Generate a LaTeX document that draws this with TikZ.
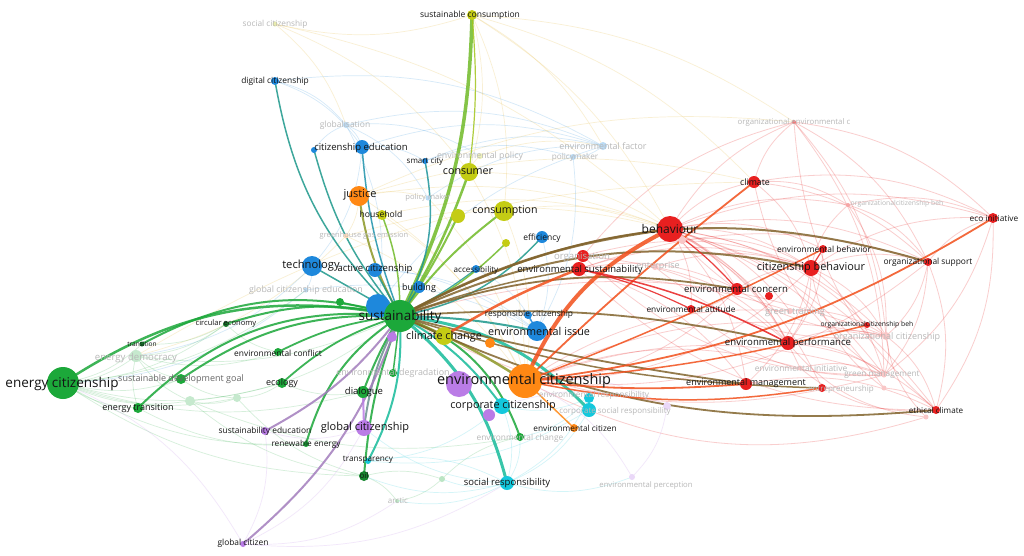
\documentclass[tikz,border=0pt]{standalone}
\usepackage{fontspec}
\setmainfont{Open Sans}
\definecolor{cgr}{RGB}{28,168,58}
\definecolor{crd}{RGB}{232,32,32}
\definecolor{cbl}{RGB}{30,136,220}
\definecolor{cyl}{RGB}{196,204,20}
\definecolor{cor}{RGB}{255,136,20}
\definecolor{cpu}{RGB}{186,124,230}
\definecolor{ccy}{RGB}{20,200,220}
\colorlet{cgy}{cgr!50!cyl}
\colorlet{cgb}{cgr!50!cbl}
\colorlet{col}{cgr!50!crd}
\colorlet{cgc}{cgr!40!ccy}
\colorlet{cro}{crd!55!cor}
\colorlet{cgo}{cgr!50!cor}
\pgfdeclarelayer{edges}
\pgfsetlayers{edges,main}
\tikzset{
  vnode/.style={circle,inner sep=0pt,draw=none},
  lab/.style={inner sep=0pt,text=black!92},
  mlab/.style={inner sep=0pt,text=black!60},
  flab/.style={inner sep=0pt,text=black!28},
  sedge/.style={line cap=round,opacity=0.85},
  fedge/.style={line width=0.7pt,opacity=0.18},
  rfedge/.style={line width=0.8pt,opacity=0.22},
}
\newcommand\vnd[5]{\node[vnode,minimum size=#4pt,fill=#5] (#1) at (#2,-#3) {};}
\newcommand\vlab[5]{\node[lab,font=\fontsize{#4}{#4}\selectfont] (#1) at (#2,-#3) {#5};}
\newcommand\vmlab[5]{\node[mlab,font=\fontsize{#4}{#4}\selectfont] (#1) at (#2,-#3) {#5};}
\newcommand\vflab[5]{\node[flab,font=\fontsize{#4}{#4}\selectfont] (#1) at (#2,-#3) {#5};}
\begin{document}
\begin{tikzpicture}[x=1pt,y=1pt]
\useasboundingbox (0,0) rectangle (1024,-555);
% ---------------- nodes ----------------
\vnd{socc}{275}{24}{5}{cyl!35}
\vnd{glob}{346}{125}{6}{cbl!30}
\vnd{envpol}{480}{156}{6}{cyl!30}
\vnd{ef}{603}{146}{8}{cbl!30}
\vnd{pm1}{573}{157}{6}{cbl!30}
\vnd{pm2}{428}{198}{5}{cbl!30}
\vnd{ghg}{346}{236}{5}{cor!30}
\vnd{gce}{306}{290}{5}{cbl!30}
\vnd{ed}{136}{356}{12}{cgr!25}
\vnd{gf1}{190}{401}{10}{cgr!25}
\vnd{gf2}{237}{398}{8}{cgr!25}
\vnd{gf3}{442}{479}{6}{cgr!30}
\vnd{arc}{397}{501}{4}{cgr!30}
\vnd{ep}{632}{477}{6}{cpu!30}
\vnd{pu4}{667}{406}{8}{cpu!30}
\vnd{ent}{655}{267}{6}{crd!25}
\vnd{bhf}{682}{240}{8}{crd!25}
\vnd{oec}{794}{122}{4}{crd!60}
\vnd{ocb1}{848}{205}{4}{crd!40}
\vnd{gt}{790}{311}{6}{crd!25}
\vnd{oc}{886}{336}{8}{crd!25}
\vnd{einit}{800}{368}{5}{crd!25}
\vnd{gm}{884}{375}{5}{crd!25}
\vnd{rdf}{884}{388}{5}{crd!25}
\vnd{rdf2}{926}{417}{5}{crd!25}
\vnd{sc}{472}{15}{10}{cyl}
\vnd{dc}{275}{81}{8}{cbl}
\vnd{ce2}{314}{150}{6}{cbl}
\vnd{ce}{362}{147}{14}{cbl}
\vnd{smc}{425}{161}{6}{cbl}
\vnd{cons}{469}{172}{18}{cyl}
\vnd{jus}{359}{196}{20}{cor}
\vnd{hh}{382}{215}{10}{cyl}
\vnd{cnsm}{504}{211}{20}{cyl}
\vnd{yltwo}{458}{216}{14}{cyl}
\vnd{eff}{542}{237}{12}{cbl}
\vnd{ylthree}{506}{243}{8}{cyl}
\vnd{tech}{312}{266}{20}{cbl}
\vnd{ac}{375}{270}{14}{cbl}
\vnd{acc}{476}{269}{8}{cbl}
\vnd{bld}{419}{287}{12}{cbl}
\vnd{gtwo}{340}{302}{8}{cgr}
\vnd{Sb}{378}{306}{24}{cbl}
\vnd{S}{400}{316}{32}{cgr}
\vnd{circ}{226}{324}{6}{cgr!70!black}
\vnd{trn}{142}{344}{5}{cgr!70!black}
\vnd{EC}{63}{383}{32}{cgr}
\vnd{sdg}{181}{379}{10}{cgr}
\vnd{envcon}{278}{352}{8}{cgr}
\vnd{eco}{282}{383}{10}{cgr}
\vnd{et}{138}{408}{10}{cgr}
\vnd{sed}{265}{431}{8}{cpu}
\vnd{gc}{364}{428}{16}{cpu}
\vnd{re}{306}{444}{6}{cgr}
\vnd{dia}{363}{392}{12}{cgr}
\vnd{putwo}{392}{337}{10}{cpu}
\vnd{ndeg}{393}{373}{8}{cgr}
\vnd{cc}{444}{336}{18}{cyl}
\vnd{ortwo}{490}{343}{10}{cor}
\vnd{rc}{528}{315}{8}{cbl}
\vnd{ei}{537}{331}{20}{cbl}
\vnd{encp}{459}{384}{26}{cpu}
\vnd{ENC}{525}{381}{34}{cor}
\vnd{corp}{502}{406}{16}{ccy}
\vnd{puthree}{489}{415}{12}{cpu}
\vnd{cytwo}{589}{398}{10}{ccy}
\vnd{cythree}{589}{410}{14}{ccy}
\vnd{ecit}{574}{428}{8}{cor}
\vnd{ech}{520}{437}{8}{cgr}
\vnd{tra}{368}{461}{6}{ccy}
\vnd{oil}{364}{476}{10}{cgr!80!black}
\vnd{sr}{507}{483}{14}{ccy}
\vnd{gcz}{243}{544}{6}{cpu}
\vnd{org}{583}{256}{12}{crd}
\vnd{es}{579}{269}{14}{crd}
\vnd{BEH}{670}{229}{26}{crd}
\vnd{cli}{754}{182}{12}{crd}
\vnd{ecoi}{993}{218}{10}{crd}
\vnd{eb}{823}{249}{8}{crd}
\vnd{cb}{811}{268}{16}{crd}
\vnd{os}{928}{262}{8}{crd}
\vnd{econ}{737}{289}{12}{crd}
\vnd{rdtwo}{769}{296}{8}{crd}
\vnd{ea}{691}{309}{8}{crd}
\vnd{ocbtwo}{867}{325}{6}{crd}
\vnd{epf}{788}{343}{14}{crd}
\vnd{em}{746}{384}{12}{crd}
\vnd{entr}{822}{388}{8}{crd}
\vnd{etc}{936}{410}{8}{crd}
% ---------------- edges ----------------
\begin{pgfonlayer}{edges}
\fill[white] (0,0) rectangle (1024,-555);
% faint background edges
\foreach \a/\b in {BEH/cli,BEH/cb,BEH/eb,BEH/os,BEH/ecoi,BEH/econ,BEH/ea,BEH/epf,BEH/em,BEH/entr,BEH/etc,BEH/gt,BEH/ocbtwo,BEH/oc,BEH/gm,BEH/einit,BEH/oec,BEH/ocb1,cli/oec,cli/ecoi,cli/cb,cli/os,cli/ocb1,oec/os,oec/ecoi,oec/gm,oec/oc,cb/os,cb/ecoi,cb/epf,cb/em,cb/oc,cb/gm,cb/ocb1,os/ecoi,os/gm,os/etc,os/oc,epf/gm,epf/oc,epf/etc,em/etc,econ/ea,econ/cb,eb/epf,ocb1/ecoi,ocb1/oc,ocb1/os,ecoi/etc,ecoi/gm,oc/etc,oc/gm,gt/oc,einit/gm,es/cb,es/econ,org/cb,ent/cb,ent/epf,es/em,org/epf,ENC/gm,ENC/oc,ENC/gt,ENC/einit,S/oc,S/gt,bhf/cb,bhf/epf,rdf/etc,rdf2/oc,org/oec,es/os,BEH/rdf}
  \draw[rfedge,draw=crd] (\a.center) to[bend left=18] (\b.center);
\foreach \a/\b in {BEH/oc,cli/gm,oec/etc,cb/rdf,epf/rdf2,ENC/cb,ENC/econ,ENC/os,es/etc,org/gm,ent/oc,ea/gm,einit/etc,ENC/rdf2,S/gm}
  \draw[rfedge,draw=crd] (\a.center) to[bend right=22] (\b.center);
\foreach \a/\b in {sc/socc,sc/cnsm,sc/cons,sc/cli,sc/BEH,sc/ef,sc/oec,socc/cons,socc/glob,jus/BEH,jus/cli,jus/ghg,jus/pm2,hh/ENC,hh/BEH,cons/BEH,cnsm/BEH,cnsm/ENC,cons/envpol,envpol/ef,ghg/ENC,ghg/ed,jus/ENC,cons/ENC,ghg/BEH,pm2/ENC,socc/BEH,ed/cli,jus/oec}
  \draw[fedge,draw=cor!50!cyl] (\a.center) to[bend left=15] (\b.center);
\foreach \a/\b in {dc/glob,glob/ce,glob/pm2,glob/ef,ce/smc,smc/ef,ef/pm1,pm1/ei,ce/tech,tech/gce,pm2/ef,glob/Sb,dc/ce,ce2/glob,smc/pm1,tech/ei,ac/ei,gce/ei,glob/envpol,tech/ed,gce/EC,Sb/ef,acc/ei,eff/ei,dc/ef,ce/ef}
  \draw[fedge,draw=cbl] (\a.center) to[bend left=18] (\b.center);
\foreach \a/\b in {EC/ed,EC/sdg,EC/et,EC/gf1,EC/trn,ed/sdg,ed/et,sdg/et,gf1/gf2,gf2/eco,ed/gf1,trn/circ,circ/envcon,eco/dia,et/re,sdg/gf2,EC/gf2,EC/circ,EC/eco,gf1/S,ed/S,EC/gce,EC/re,ed/envcon,gf1/oil,gf2/oil,arc/gf3,gf3/oil,ech/gf3,arc/oil,EC/dia,ed/circ,EC/oil,gf1/ech}
  \draw[fedge,draw=cgr] (\a.center) to[bend right=16] (\b.center);
\foreach \a/\b in {sr/corp,sr/tra,sr/cythree,sr/ech,arc/sr,gf3/sr,tra/corp,sr/ep,sr/cytwo,corp/cytwo,tra/cythree,ech/cytwo,gc/sr,oil/sr}
  \draw[fedge,draw=ccy] (\a.center) to[bend right=18] (\b.center);
\foreach \a/\b in {gcz/sed,gcz/gc,ep/ENC,pu4/ENC,gcz/EC,sed/gc,pu4/corp,ep/pu4,gcz/arc,gcz/sr}
  \draw[fedge,draw=cpu] (\a.center) to[bend right=18] (\b.center);
% strong edges from sustainability
\draw[sedge,draw=cgy,line width=3.5pt] (S.center) to[bend right=12] (sc.center);
\draw[sedge,draw=cyl!80!cgr,line width=1.2pt] (cons.center) to[bend right=6] (sc.center);
\draw[sedge,draw=cgb,line width=1.5pt] (S.center) to[bend left=18] (dc.center);
\draw[sedge,draw=cgb,line width=1.5pt] (S.center) to[bend left=12] (ce2.center);
\draw[sedge,draw=cbl!70!cgr,line width=1.5pt] (S.center) to[bend left=8] (ce.center);
\draw[sedge,draw=cbl!60!cgr,line width=1.5pt] (S.center) to[bend right=20] (smc.center);
\draw[sedge,draw=cgy,line width=2.5pt] (S.center) to[bend right=6] (cons.center);
\draw[sedge,draw=cgo,line width=2pt] (S.center) to[bend left=10] (jus.center);
\draw[sedge,draw=cgy,line width=1.5pt] (S.center) to[bend right=10] (hh.center);
\draw[sedge,draw=cgy,line width=2pt] (S.center) to[bend left=8] (cnsm.center);
\draw[sedge,draw=cgy,line width=2pt] (S.center) to[bend right=4] (yltwo.center);
\draw[sedge,draw=cgb,line width=1.5pt] (S.center) to[bend right=18] (eff.center);
\draw[sedge,draw=cgy,line width=1.5pt] (S.center) to[bend right=10] (ylthree.center);
\draw[sedge,draw=cgb,line width=1.2pt] (S.center) to[bend right=5] (acc.center);
\draw[sedge,draw=cgb,line width=1.5pt] (S.center) -- (tech.center);
\draw[sedge,draw=cgb,line width=1.5pt] (S.center) -- (ac.center);
\draw[sedge,draw=cgb,line width=1.5pt] (S.center) -- (bld.center);
\draw[sedge,draw=cgr,line width=1.5pt] (S.center) -- (gtwo.center);
\draw[sedge,draw=cgr,line width=2.5pt] (S.center) to[bend right=22] (EC.center);
\draw[sedge,draw=cgr,line width=2pt] (S.center) to[bend right=22] (trn.center);
\draw[sedge,draw=cgr,line width=2pt] (S.center) to[bend right=15] (circ.center);
\draw[sedge,draw=cgr,line width=2pt] (S.center) to[bend right=18] (sdg.center);
\draw[sedge,draw=cgr,line width=2pt] (S.center) to[bend right=25] (et.center);
\draw[sedge,draw=cgr,line width=1.8pt] (S.center) to[bend right=10] (envcon.center);
\draw[sedge,draw=cgr,line width=1.8pt] (S.center) to[bend right=12] (eco.center);
\draw[sedge,draw=cgr,line width=2pt] (S.center) to[bend right=20] (re.center);
\draw[sedge,draw=cgr,line width=2pt] (S.center) to[bend right=5] (dia.center);
\draw[sedge,draw=cgr!50!cpu,line width=2pt] (S.center) to[bend right=10] (gc.center);
\draw[sedge,draw=cgr,line width=2pt] (S.center) to[bend right=8] (oil.center);
\draw[sedge,draw=cgr,line width=1.5pt] (S.center) -- (ndeg.center);
\draw[sedge,draw=cpu,line width=1.5pt] (S.center) -- (putwo.center);
\draw[sedge,draw=cgr,line width=2pt] (S.center) to[bend left=25] (ech.center);
\draw[sedge,draw=cgc,line width=3pt] (S.center) to[bend left=18] (sr.center);
\draw[sedge,draw=cgc,line width=2pt] (S.center) to[bend left=12] (corp.center);
\draw[sedge,draw=cgc,line width=3pt] (S.center) to[bend left=20] (cythree.center);
\draw[sedge,draw=cgc,line width=2pt] (S.center) to[bend left=15] (tra.center);
\draw[sedge,draw=cgb,line width=2pt] (S.center) to[bend left=5] (ei.center);
\draw[sedge,draw=cgy,line width=2pt] (S.center) -- (cc.center);
\draw[sedge,draw=cgo,line width=2.5pt] (S.center) to[bend left=5] (ENC.center);
\draw[sedge,draw=col,line width=2.5pt] (S.center) to[bend left=10] (BEH.center);
\draw[sedge,draw=col,line width=2pt] (S.center) to[bend left=18] (cb.center);
\draw[sedge,draw=col,line width=2pt] (S.center) to[bend left=22] (os.center);
\draw[sedge,draw=col,line width=1.8pt] (S.center) to[bend left=14] (econ.center);
\draw[sedge,draw=col,line width=1.8pt] (S.center) to[bend left=8] (epf.center);
\draw[sedge,draw=col,line width=1.8pt] (S.center) to[bend right=3] (em.center);
\draw[sedge,draw=col,line width=1.8pt] (S.center) to[bend right=15] (etc.center);
\draw[sedge,draw=col,line width=1.5pt] (S.center) to[bend right=8] (entr.center);
\draw[sedge,draw=col,line width=1.5pt] (S.center) to[bend left=5] (es.center);
\draw[sedge,draw=cpu!60!gray,line width=2pt] (S.center) to[bend left=15] (gcz.center);
\draw[sedge,draw=cpu!60!gray,line width=2pt] (S.center) to[bend left=12] (sed.center);
\draw[sedge,draw=cpu,line width=2pt] (dia.center) -- (gc.center);
% environmental citizenship and red cluster
\draw[sedge,draw=cro,line width=4pt] (ENC.center) to[bend left=20] (BEH.center);
\draw[sedge,draw=cro,line width=1.8pt] (ENC.center) to[bend left=3] (cli.center);
\draw[sedge,draw=cro,line width=1.8pt] (ENC.center) to[bend right=12] (ecoi.center);
\draw[sedge,draw=cro,line width=1.8pt] (ENC.center) to[bend right=5] (em.center);
\draw[sedge,draw=cro,line width=1.5pt] (ENC.center) to[bend right=10] (entr.center);
\draw[sedge,draw=cro,line width=1.5pt] (ENC.center) to[bend right=3] (eb.center);
\draw[sedge,draw=cro,line width=1.5pt] (ENC.center) to[bend right=5] (ocbtwo.center);
\draw[sedge,draw=cor,line width=1.5pt] (ENC.center) -- (ecit.center);
\draw[sedge,draw=cro,line width=2.5pt] (es.center) to[bend right=5] (cc.center);
\draw[sedge,draw=crd,line width=1.5pt] (es.center) to[bend left=8] (epf.center);
\draw[sedge,draw=crd,line width=1.2pt] (es.center) to[bend left=6] (ea.center);
\draw[sedge,draw=crd,line width=1.2pt] (BEH.center) to[bend left=6] (econ.center);
\draw[sedge,draw=crd,line width=1.2pt] (cb.center) -- (eb.center);
\draw[sedge,draw=cbl,line width=1.5pt] (ei.center) -- (rc.center);
\end{pgfonlayer}
% ---------------- labels ----------------
\vlab{lsc}{470}{15}{8.5}{sustainable consumption}
\vflab{lsocc}{275}{24}{8.3}{social citizenship}
\vlab{ldc}{275}{81}{8.4}{digital citizenship}
\vflab{lglob}{345}{125}{8.5}{globalisation}
\vlab{lce}{361}{148}{9.5}{citizenship education}
\vlab{lsmc}{425}{162}{8}{smart city}
\vflab{lenvpol}{480}{156}{8.8}{environmental policy}
\vlab{lcons}{468}{172}{10.7}{consumer}
\vflab{lef}{603}{146}{8.9}{environmental factor}
\vflab{lpmone}{575}{157}{8.2}{policymaker}
\vflab{lpmtwo}{428}{198}{7.6}{policy maker}
\vlab{ljus}{360}{195}{11}{justice}
\vlab{lhh}{381}{214}{8.6}{household}
\vlab{lcnsm}{505}{211}{10.6}{consumption}
\vflab{lghg}{364}{236}{7.5}{greenhouse gas emission}
\vlab{leff}{542}{238}{8.5}{efficiency}
\vlab{ltech}{311}{266}{11.2}{technology}
\vlab{lac}{375}{269}{9.5}{active citizenship}
\vlab{lacc}{476}{270}{8.1}{accessibility}
\vlab{lbld}{419}{288}{9}{building}
\vflab{lgce}{306}{290}{8.8}{global citizenship education}
\vlab{lS}{400}{317}{13.5}{sustainability}
\vlab{lcirc}{226}{324}{7.6}{circular economy}
\vlab{ltrn}{142}{344}{6.6}{transition}
\vflab{led}{136}{358}{9.6}{energy democracy}
\vlab{lEC}{62}{384}{13.5}{energy citizenship}
\vmlab{lsdg}{181}{379}{9}{sustainable development goal}
\vlab{lenvcon}{278}{353}{8.4}{environmental conflict}
\vlab{leco}{282}{383}{9}{ecology}
\vlab{let}{138}{408}{9}{energy transition}
\vlab{lsed}{265}{431}{8.4}{sustainability education}
\vlab{lgc}{365}{428}{11}{global citizenship}
\vlab{lre}{306}{444}{8.3}{renewable energy}
\vlab{ldia}{364}{392}{9.5}{dialogue}
\vflab{lndeg}{393}{373}{8.9}{environmental degradation}
\vlab{lcc}{444}{337}{10.8}{climate change}
\vlab{lrc}{529}{314}{8.3}{responsible citizenship}
\vlab{lei}{539}{331}{10.8}{environmental issue}
\vlab{lENC}{524}{381}{14.5}{environmental citizenship}
\vlab{lcorp}{503}{406}{10.8}{corporate citizenship}
\vflab{lcytwo}{594}{395}{8.3}{environmental responsibility}
\vflab{lcythree}{615}{411}{8}{corporate social responsibility}
\vlab{lecit}{575}{428}{8.3}{environmental citizen}
\vflab{lech}{520}{438}{8.3}{environmental change}
\vlab{ltra}{368}{460}{8.2}{transparency}
\vlab{loil}{364}{475}{8}{oil}
\vflab{larc}{398}{501}{8}{arctic}
\vlab{lsr}{507}{483}{9.5}{social responsibility}
\vflab{lep}{646}{485}{7.7}{environmental perception}
\vlab{lgcz}{243}{543}{8.4}{global citizen}
\vflab{lorg}{582}{257}{9.6}{organisation}
\vlab{les}{580}{270}{9.5}{environmental sustainability}
\vflab{lent}{658}{266}{9}{enterprise}
\vlab{lBEH}{670}{229}{12}{behaviour}
\vlab{lcli}{755}{182}{8.8}{climate}
\vflab{loec}{794}{122}{7.8}{organizational environmental c}
\vflab{locbone}{897}{204}{6.8}{organizationalcitizenship beh}
\vlab{lecoi}{994}{218}{8.3}{eco initiative}
\vlab{leb}{824}{249}{8.4}{environmental behavior}
\vlab{lcb}{811}{268}{10.9}{citizenship behaviour}
\vlab{los}{928}{262}{8.4}{organizational support}
\vlab{lecon}{736}{289}{9.6}{environmental concern}
\vlab{lea}{691}{309}{8.3}{environmental attitude}
\vflab{lgt}{795}{312}{9.2}{green training}
\vlab{locbtwo}{867}{325}{6.8}{organizationalcitizenship beh}
\vflab{loc}{887}{337}{9}{organizational citizenship}
\vlab{lepf}{788}{343}{9.6}{environmental performance}
\vflab{leinit}{801}{368}{8.4}{environmental initiative}
\vflab{lgm}{882}{375}{8.2}{green management}
\vlab{lem}{746}{383}{9}{environmental management}
\vflab{lentr}{841}{389}{8}{entrepreneurship}
\vlab{letc}{936}{410}{8.1}{ethical climate}
\end{tikzpicture}
\end{document}
